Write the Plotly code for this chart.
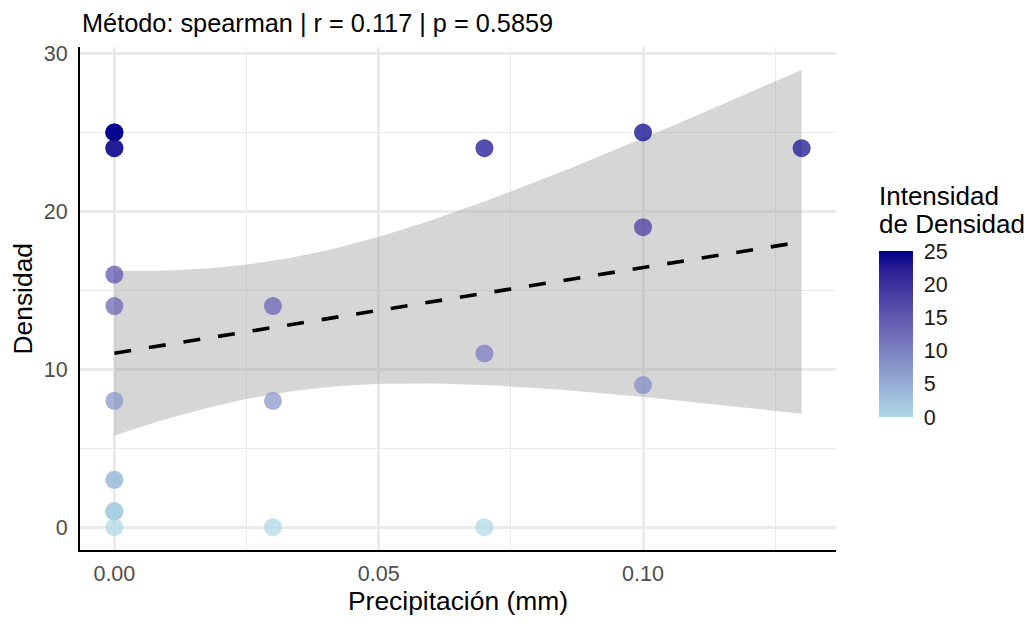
import numpy as np
import plotly.graph_objects as go

# ---------------- data ----------------
# visible points (18) + 6 overlapping duplicates at x = 0 (n = 24)
precipitacion = [0.00, 0.00, 0.00, 0.00, 0.00, 0.00, 0.00, 0.00,
                 0.00, 0.00, 0.00, 0.00, 0.00, 0.00,
                 0.03, 0.03, 0.03,
                 0.07, 0.07, 0.07,
                 0.10, 0.10, 0.10,
                 0.13]
densidad = [25, 24, 16, 14, 8, 3, 1, 0,
            25, 25, 24, 3, 1, 1,
            14, 8, 0,
            24, 11, 0,
            25, 19, 9,
            24]
x_ticks = [0.00, 0.05, 0.10]
x_tick_text = ["0.00", "0.05", "0.10"]
y_ticks = [0, 10, 20, 30]
cbar_ticks = [0, 5, 10, 15, 20, 25]
titulo = "Método: spearman | r = 0.117 | p = 0.5859"

x = np.array(precipitacion, dtype=float)
y = np.array(densidad, dtype=float)
n = len(x)

# ---------------- linear fit + 95% CI (like geom_smooth(method="lm")) -----
slope, intercept = np.polyfit(x, y, 1)
resid = y - (intercept + slope * x)
s = np.sqrt(np.sum(resid ** 2) / (n - 2))
mx = x.mean()
sxx = np.sum((x - mx) ** 2)
try:
    from scipy import stats
    tcrit = stats.t.ppf(0.975, n - 2)
except Exception:
    tcrit = 2.0739
xg = np.linspace(x.min(), x.max(), 80)
yg = intercept + slope * xg
se = s * np.sqrt(1.0 / n + (xg - mx) ** 2 / sxx)
lo = yg - tcrit * se
hi = yg + tcrit * se

# ---------------- colour scale: lightblue -> darkblue in Lab ----------
def _srgb_to_lin(c):
    c = c / 255.0
    return np.where(c <= 0.04045, c / 12.92, ((c + 0.055) / 1.055) ** 2.4)

def _lin_to_srgb(c):
    c = np.clip(c, 0, 1)
    v = np.where(c <= 0.0031308, 12.92 * c, 1.055 * c ** (1 / 2.4) - 0.055)
    return np.clip(np.round(v * 255), 0, 255)

M = np.array([[0.4124, 0.3576, 0.1805], [0.2126, 0.7152, 0.0722], [0.0193, 0.1192, 0.9505]])
WP = np.array([0.95047, 1.0, 1.08883])

def _f(t):
    d = 6 / 29
    return np.where(t > d ** 3, np.cbrt(t), t / (3 * d * d) + 4 / 29)

def _finv(t):
    d = 6 / 29
    return np.where(t > d, t ** 3, 3 * d * d * (t - 4 / 29))

def rgb2lab(rgb):
    xyz = M @ _srgb_to_lin(np.array(rgb, float)) / WP
    fx, fy, fz = _f(xyz)
    return np.array([116 * fy - 16, 500 * (fx - fy), 200 * (fy - fz)])

def lab2rgb(lab):
    L_, a, b = lab
    fy = (L_ + 16) / 116
    xyz = np.array([_finv(fy + a / 500), _finv(fy), _finv(fy - b / 200)]) * WP
    return _lin_to_srgb(np.linalg.inv(M) @ xyz)

lab_lo = rgb2lab((173, 216, 230))
lab_hi = rgb2lab((0, 0, 139))
colorscale = []
for t in np.linspace(0, 1, 11):
    r, g, b = lab2rgb(lab_lo + (lab_hi - lab_lo) * t)
    colorscale.append([float(t), f"rgb({int(r)},{int(g)},{int(b)})"])

# ---------------- figure ----------------
# the page body has an 8px margin, so the figure is drawn 8px smaller and
# all target pixel positions are taken relative to that offset
OFF = 8
FONT = "Liberation Sans, Arial, sans-serif"
W, H = 1032 - OFF, 622 - OFF
L, T = 80 - OFF, 47 - OFF
R = W - (836 - OFF)
B = H - (550 - OFF)
pw, ph = W - L - R, H - T - B

def px_x(p):   # screenshot pixel -> paper x
    return (p - OFF - L) / pw

def px_y(p):   # screenshot pixel -> paper y
    return (H - B - (p - OFF)) / ph

ylo = min(y.min(), lo.min())
yhi = max(y.max(), hi.max())
yr = [ylo - 0.05 * (yhi - ylo), yhi + 0.05 * (yhi - ylo)]
xr = [x.min() - 0.05 * (x.max() - x.min()), x.max() + 0.05 * (x.max() - x.min())]

fig = go.Figure()
fig.add_trace(go.Scatter(x=xg, y=lo, mode="lines", line=dict(width=0),
                         hoverinfo="skip", showlegend=False))
fig.add_trace(go.Scatter(x=xg, y=hi, mode="lines", line=dict(width=0),
                         fill="tonexty", fillcolor="rgba(153,153,153,0.4)",
                         hoverinfo="skip", showlegend=False))
fig.add_trace(go.Scatter(
    x=x, y=y, mode="markers", showlegend=False,
    marker=dict(size=18, color=y, colorscale=colorscale, cmin=0, cmax=25,
                opacity=0.72, line=dict(width=0),
                colorbar=dict(
                    thickness=34, lenmode="pixels", len=166,
                    x=px_x(879), xanchor="left", xpad=0,
                    y=px_y(417), yanchor="bottom", ypad=0,
                    outlinewidth=0, tickvals=cbar_ticks,
                    ticks="outside", ticklen=7, tickcolor="white", tickwidth=1,
                    tickfont=dict(family=FONT, size=21.5, color="#1A1A1A"),
                    title=dict(text=""))),
))
fig.add_trace(go.Scatter(x=xg, y=yg, mode="lines", showlegend=False,
                         line=dict(color="black", width=3.6, dash="17px,18px"),
                         hoverinfo="skip"))

grid_major = "#EBEBEB"
fig.update_xaxes(range=xr, tickvals=x_ticks, ticktext=x_tick_text, automargin=False,
                 showgrid=True, gridcolor=grid_major, gridwidth=2.5,
                 minor=dict(dtick=0.025, tick0=0, showgrid=True, gridcolor=grid_major, gridwidth=1.3),
                 zeroline=False, showline=True, linecolor="black", linewidth=2,
                 ticks="", ticklabelstandoff=3,
                 tickfont=dict(family=FONT, size=21.5, color="#4D4D4D"))
fig.update_yaxes(range=yr, tickvals=y_ticks, automargin=False,
                 showgrid=True, gridcolor=grid_major, gridwidth=2.5,
                 minor=dict(dtick=5, tick0=0, showgrid=True, gridcolor=grid_major, gridwidth=1.3),
                 zeroline=False, showline=True, linecolor="black", linewidth=2,
                 ticks="", ticklabelstandoff=6,
                 tickfont=dict(family=FONT, size=21.5, color="#4D4D4D"))

ann = []
ann.append(dict(text=titulo, xref="paper", yref="paper", x=0, y=px_y(23),
                xanchor="left", yanchor="middle", showarrow=False,
                font=dict(family=FONT, size=25.3, color="black")))
ann.append(dict(text="Precipitación (mm)", xref="paper", yref="paper", x=0.5,
                y=px_y(601), xanchor="center", yanchor="middle", showarrow=False,
                font=dict(family=FONT, size=26.4, color="black")))
ann.append(dict(text="Densidad", xref="paper", yref="paper", x=px_x(22), y=0.5,
                xanchor="center", yanchor="middle", textangle=-90, showarrow=False,
                font=dict(family=FONT, size=26.4, color="black")))
ann.append(dict(text="Intensidad", xref="paper", yref="paper", x=px_x(877),
                y=px_y(196), xanchor="left", yanchor="middle", showarrow=False,
                font=dict(family=FONT, size=26, color="black")))
ann.append(dict(text="de Densidad", xref="paper", yref="paper", x=px_x(877),
                y=px_y(224), xanchor="left", yanchor="middle", showarrow=False,
                font=dict(family=FONT, size=26, color="black")))

fig.update_layout(width=W, height=H,
                  margin=dict(l=L, r=R, t=T, b=B, autoexpand=False),
                  paper_bgcolor="white", plot_bgcolor="white",
                  font=dict(family=FONT), annotations=ann, showlegend=False)

fig.write_html("out.html")
